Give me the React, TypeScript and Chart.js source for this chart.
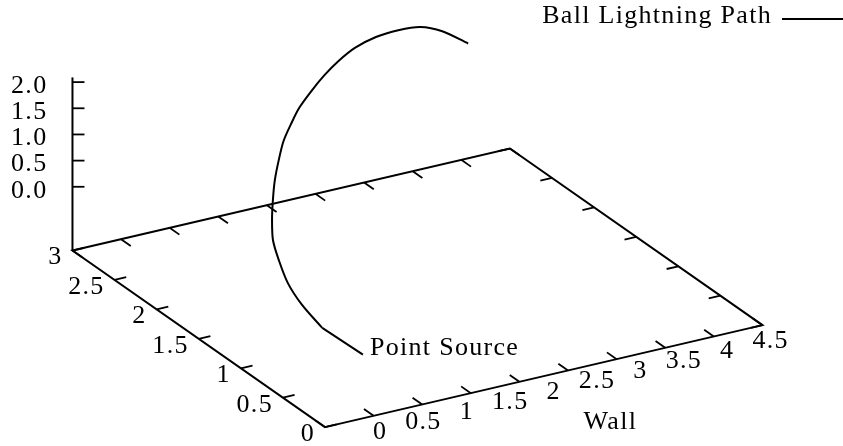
import { useEffect, useRef } from "react";
import { Chart, registerables } from "chart.js";

Chart.register(...registerables);

// Ball lightning track: x runs along the wall, y away from it, z is height.
// The first two samples are the straight lead-out from the point source.
const PATH_X = [0.39, 0.37, 0.37, 0.39, 0.46, 0.53, 0.65, 0.78, 0.93, 1.1, 1.27, 1.45, 1.63, 1.86, 2.09, 2.31, 2.55, 2.81, 3.04, 3.24, 3.38, 3.49];
const PATH_Y = [0.0, 0.46, 0.7, 0.89, 1.08, 1.23, 1.38, 1.52, 1.67, 1.82, 1.96, 2.08, 2.19, 2.31, 2.42, 2.51, 2.59, 2.64, 2.64, 2.61, 2.51, 2.33];
const PATH_Z = [0.0, 0.0, 0.17, 0.36, 0.56, 0.74, 0.91, 1.07, 1.22, 1.36, 1.49, 1.6, 1.71, 1.8, 1.88, 1.95, 2.01, 2.05, 2.08, 2.09, 2.06, 1.98];
const LEAD_POINTS = 2;

const SERIES_LABEL = "Ball Lightning Path";
const SOURCE_LABEL = "Point Source";
const X_AXIS_LABEL = "Wall";

const X_TICKS = [0, 0.5, 1, 1.5, 2, 2.5, 3, 3.5, 4, 4.5];
const X_TICK_LABELS = ["0", "0.5", "1", "1.5", "2", "2.5", "3", "3.5", "4", "4.5"];
const Y_TICKS = [0, 0.5, 1, 1.5, 2, 2.5, 3];
const Y_TICK_LABELS = ["0", "0.5", "1", "1.5", "2", "2.5", "3"];
const Z_TICKS = [0, 0.5, 1, 1.5, 2];
const Z_TICK_LABELS = ["0.0", "0.5", "1.0", "1.5", "2.0"];

// axis ranges and base-plane level
const X_RANGE = [0, 4.5];
const Y_RANGE = [0, 3];
const Z_RANGE = [-0.115, 2.09];
const TICS_LEVEL = 0.5;

// view: rotation about x and z, vertical squeeze of z, screen aspect
const ROT_X = 60;
const ROT_Z = 30;
const Z_SCALE = 0.49;
const ASPECT = 0.8076;

const Z_FLOOR = Z_RANGE[0] - TICS_LEVEL * (Z_RANGE[1] - Z_RANGE[0]);

const FONT = '26px "Liberation Serif", "Times New Roman", serif';
const INK = "#000000";

function project(x: number, y: number, z: number) {
  const xn = (2 * (x - X_RANGE[0])) / (X_RANGE[1] - X_RANGE[0]) - 1;
  const yn = (2 * (y - Y_RANGE[0])) / (Y_RANGE[1] - Y_RANGE[0]) - 1;
  const zn = (2 * (z - Z_FLOOR)) / (Z_RANGE[1] - Z_FLOOR) - 1;
  const rz = (ROT_Z * Math.PI) / 180;
  const rx = (ROT_X * Math.PI) / 180;
  const u = xn * Math.cos(rz) - yn * Math.sin(rz);
  const w =
    ((xn * Math.sin(rz) + yn * Math.cos(rz)) * Math.cos(rx) +
      zn * Math.sin(rx) * Z_SCALE) *
    ASPECT;
  return { x: u, y: w };
}

const pathPoints = PATH_X.map((x, i) => project(x, PATH_Y[i], PATH_Z[i]));
const leadPoints = pathPoints.slice(0, LEAD_POINTS);
const arcPoints = pathPoints.slice(LEAD_POINTS - 1);

function toPixel(chart: any, x: number, y: number, z: number) {
  const p = project(x, y, z);
  return {
    x: chart.scales.x.getPixelForValue(p.x),
    y: chart.scales.y.getPixelForValue(p.y),
  };
}

function segment(ctx: CanvasRenderingContext2D, a: any, b: any) {
  ctx.beginPath();
  ctx.moveTo(a.x, a.y);
  ctx.lineTo(b.x, b.y);
  ctx.stroke();
}

const frame3d = {
  id: "frame3d",
  beforeDatasetsDraw(chart: any) {
    const ctx: CanvasRenderingContext2D = chart.ctx;
    const [x0, x1] = X_RANGE;
    const [y0, y1] = Y_RANGE;
    const P = (x: number, y: number, z: number) => toPixel(chart, x, y, z);
    ctx.save();
    ctx.strokeStyle = INK;
    ctx.lineWidth = 2;
    ctx.lineCap = "butt";
    ctx.lineJoin = "miter";

    // base plane outline
    ctx.beginPath();
    const corners = [P(x0, y0, Z_FLOOR), P(x1, y0, Z_FLOOR), P(x1, y1, Z_FLOOR), P(x0, y1, Z_FLOOR)];
    ctx.moveTo(corners[0].x, corners[0].y);
    for (let i = 1; i < corners.length; i++) ctx.lineTo(corners[i].x, corners[i].y);
    ctx.closePath();
    ctx.stroke();

    // vertical z axis at the back-left corner
    segment(ctx, P(x0, y1, Z_FLOOR), P(x0, y1, Z_RANGE[1]));

    ctx.lineWidth = 1.8;
    const xTickLen = 0.115;
    const yTickLen = 0.12;

    // x tics on the front edge and mirrored on the back edge
    X_TICKS.forEach((t) => {
      segment(ctx, P(t, y0, Z_FLOOR), P(t, y0 + xTickLen, Z_FLOOR));
      segment(ctx, P(t, y1, Z_FLOOR), P(t, y1 - xTickLen, Z_FLOOR));
    });
    // y tics on the left edge and mirrored on the right edge
    Y_TICKS.forEach((t) => {
      segment(ctx, P(x0, t, Z_FLOOR), P(x0 + yTickLen, t, Z_FLOOR));
      segment(ctx, P(x1, t, Z_FLOOR), P(x1 - yTickLen, t, Z_FLOOR));
    });
    // z tics
    Z_TICKS.forEach((t) => {
      const a = P(x0, y1, t);
      segment(ctx, a, { x: a.x + 12, y: a.y });
    });
    ctx.restore();
  },
  afterDatasetsDraw(chart: any) {
    const ctx: any = chart.ctx;
    const [x0, x1] = X_RANGE;
    const [y0, y1] = Y_RANGE;
    const P = (x: number, y: number, z: number) => toPixel(chart, x, y, z);
    ctx.save();
    ctx.fillStyle = INK;
    ctx.strokeStyle = INK;
    ctx.font = FONT;
    ctx.letterSpacing = "1.3px";
    ctx.textBaseline = "middle";

    // z tick labels
    ctx.textAlign = "right";
    Z_TICKS.forEach((t, i) => {
      const a = P(x0, y1, t);
      ctx.fillText(Z_TICK_LABELS[i], a.x - 25, a.y + 4);
    });

    // y tick labels along the left edge
    Y_TICKS.forEach((t, i) => {
      const a = P(x0, t, Z_FLOOR);
      ctx.fillText(Y_TICK_LABELS[i], a.x - 10, a.y + 7);
    });

    // x tick labels below the front edge
    ctx.textAlign = "center";
    X_TICKS.forEach((t, i) => {
      const a = P(0.893 * t + 0.361, y0 - 0.225, Z_FLOOR);
      ctx.fillText(X_TICK_LABELS[i], a.x + 1, a.y);
    });

    // x axis title
    const wl = P((x0 + x1) / 2, y0 - 0.78, Z_FLOOR);
    ctx.fillText(X_AXIS_LABEL, wl.x + 1, wl.y);

    // source label at the start of the track
    ctx.textAlign = "left";
    const s = P(PATH_X[0], PATH_Y[0], PATH_Z[0]);
    ctx.fillText(SOURCE_LABEL, s.x + 7, s.y - 6);

    // key, top right
    const keyY = 19;
    ctx.textAlign = "right";
    ctx.textBaseline = "alphabetic";
    ctx.fillText(chart.data.datasets[0].label, 772, 23);
    ctx.lineWidth = 2;
    segment(ctx, { x: 782, y: keyY }, { x: 843, y: keyY });
    ctx.restore();
  },
};

export default function App() {
  const ref = useRef<HTMLCanvasElement | null>(null);

  useEffect(() => {
    if (!ref.current) return;
    const chart = new Chart(ref.current, {
      type: "scatter",
      data: {
        datasets: [
          {
            label: SERIES_LABEL,
            data: arcPoints,
            showLine: true,
            borderColor: INK,
            borderWidth: 2,
            pointRadius: 0,
            tension: 0.3,
            fill: false,
          },
          {
            label: SERIES_LABEL,
            data: leadPoints,
            showLine: true,
            borderColor: INK,
            borderWidth: 2,
            pointRadius: 0,
            tension: 0,
            fill: false,
          },
        ],
      },
      options: {
        animation: false,
        responsive: false,
        events: [],
        layout: { padding: 0 },
        plugins: {
          legend: { display: false },
          tooltip: { enabled: false },
        },
        scales: {
          x: { type: "linear", display: false, min: -1.653, max: 1.685 },
          y: { type: "linear", display: false, min: -0.969, max: 0.797 },
        },
      },
      plugins: [frame3d],
    });
    return () => chart.destroy();
  }, []);

  return (
    <div style={{ position: "absolute", left: 0, top: 0, width: 843, height: 446, background: "#fff" }}>
      <canvas ref={ref} width={843} height={446} style={{ display: "block" }} />
    </div>
  );
}
